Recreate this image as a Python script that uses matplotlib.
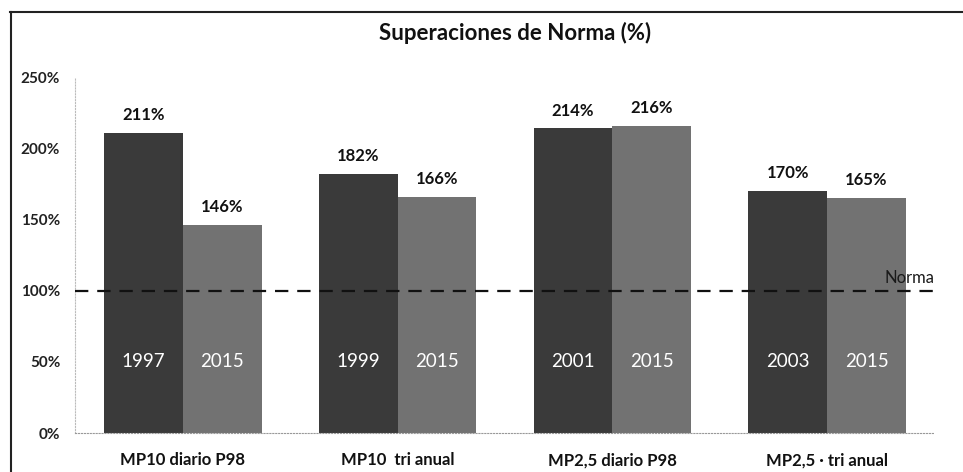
import numpy as np
import matplotlib
matplotlib.use('Agg')
import matplotlib.pyplot as plt
from matplotlib.lines import Line2D

categories = ['MP10 diario P98', 'MP10  tri anual', 'MP2,5 diario P98', 'MP2,5 · tri anual']
first_years = ['1997', '1999', '2001', '2003']
first_values = [211, 182, 214, 170]
last_years = ['2015', '2015', '2015', '2015']
last_values = [146, 166, 216, 165]
norma = 100

plt.rcParams['font.family'] = ['Lato', 'DejaVu Sans']

fig = plt.figure(figsize=(9.63, 4.72), dpi=100)
ax = fig.add_axes([0.0784, 0.0826, 0.892, 0.754])

x = np.arange(len(categories))
w = 0.367
b1 = ax.bar(x - w / 2, first_values, w, color='#3a3a3a')
b2 = ax.bar(x + w / 2, last_values, w, color='#727272')

for bars, vals, years in [(b1, first_values, first_years), (b2, last_values, last_years)]:
    for bar, v, yr in zip(bars, vals, years):
        cx = bar.get_x() + bar.get_width() / 2
        ax.annotate('%d%%' % v, (cx, v), xytext=(0, 7), textcoords='offset points',
                    ha='center', va='bottom', fontsize=12, fontweight='bold', color='#111111')
        ax.text(cx, 50, yr, ha='center', va='center', fontsize=13.5, color='white')

ax.axhline(norma, color='#111111', linestyle=(0, (6, 4)), linewidth=1.6, zorder=3)
ax.text(3.5, norma + 3, 'Norma', ha='right', va='bottom', fontsize=12, color='#1a1a1a')

ax.set_xlim(-0.5, 3.5)
ax.set_ylim(0, 250)
ax.set_yticks([0, 50, 100, 150, 200, 250])
ax.set_yticklabels(['%d%%' % t for t in [0, 50, 100, 150, 200, 250]], fontsize=11, fontweight='bold')
ax.tick_params(axis='y', length=0, pad=11, colors='#222222')
ax.set_xticks(x)
ax.set_xticklabels(categories, fontsize=12, fontweight='bold')
ax.tick_params(axis='x', length=0, pad=14, colors='#111111')

for s in ['top', 'right']:
    ax.spines[s].set_visible(False)
ax.spines['left'].set_color('#bbbbbb')
ax.spines['left'].set_linestyle(':')
ax.spines['bottom'].set_color('#999999')
ax.spines['bottom'].set_linestyle(':')

fig.text(0.535, 0.93, 'Superaciones de Norma (%)', ha='center', va='center',
         fontsize=16, fontweight='bold', color='#111111')

# outer frame of the scanned chart
fig.add_artist(Line2D([0.0105, 1.0], [0.975, 0.975], color='#222222', linewidth=1.5))
fig.add_artist(Line2D([0.0115, 0.0115], [0.0, 0.975], color='#222222', linewidth=1.5))

fig.savefig('out.png', dpi=100)
